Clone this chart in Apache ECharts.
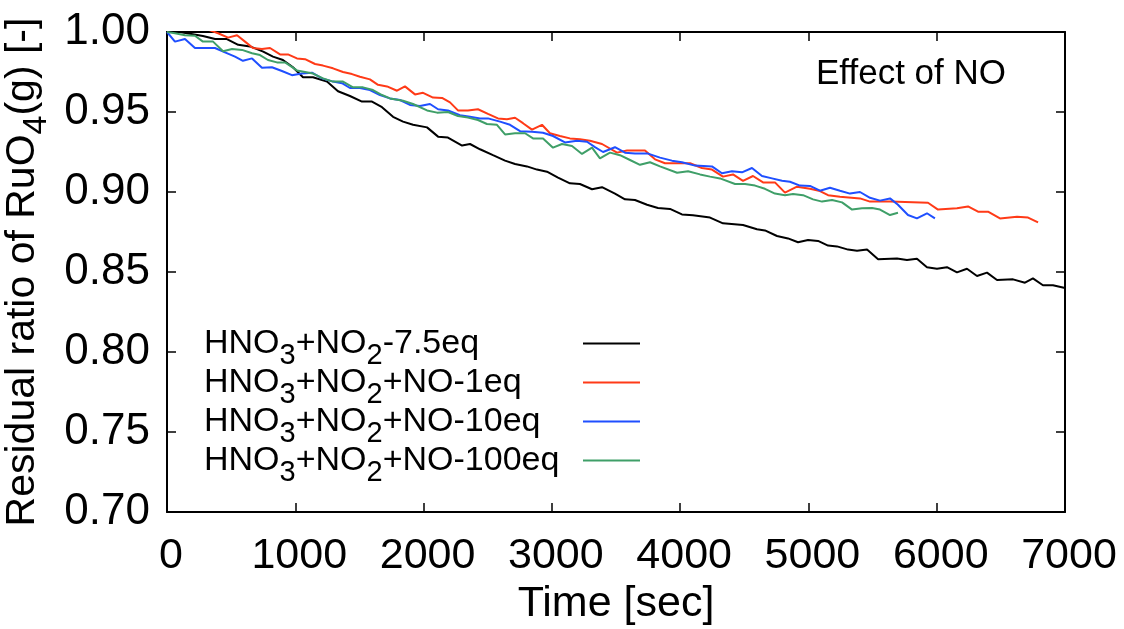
<!DOCTYPE html>
<html><head><meta charset="utf-8">
<script src="https://cdn.jsdelivr.net/npm/echarts@6/dist/echarts.min.js"></script>
<style>html,body{margin:0;padding:0;background:#fff}#c{width:1124px;height:629px}</style>
</head><body><div id="c"></div>
<script>
const seriesNames = ['HNO3+NO2-7.5eq', 'HNO3+NO2+NO-1eq', 'HNO3+NO2+NO-10eq', 'HNO3+NO2+NO-100eq'];
const seriesLabels = ['HNO{s|3}+NO{s|2}-7.5eq', 'HNO{s|3}+NO{s|2}+NO-1eq', 'HNO{s|3}+NO{s|2}+NO-10eq', 'HNO{s|3}+NO{s|2}+NO-100eq'];
const seriesColors = ['#000000', '#ff3a17', '#1f4fff', '#3f9f68'];
const xTickValues = [0, 1000, 2000, 3000, 4000, 5000, 6000, 7000];
const yTickValues = [0.70, 0.75, 0.80, 0.85, 0.90, 0.95, 1.00];

const time75 = [0,100,280,375,467,555,647,750,826,904,982,1060,1138,1247,1333,1426,1520,1598,1676,1762,1840,1918,2027,2113,2190,2300,2362,2440,2541,2635,2713,2806,2884,2962,3048,3141,3219,3313,3391,3492,3570,3648,3742,3827,3921,4014,4100,4233,4334,4490,4599,4661,4755,4841,4919,4997,5075,5153,5223,5309,5379,5457,5543,5690,5768,5846,5924,6002,6080,6158,6236,6314,6392,6470,6595,6688,6750,6828,6906,7000];
const ratio75 = [1.000,1.000,0.9975,0.9956,0.9956,0.992,0.991,0.9877,0.9846,0.9825,0.978,0.9717,0.9717,0.969,0.963,0.960,0.9565,0.9565,0.953,0.947,0.944,0.942,0.9404,0.9346,0.934,0.929,0.930,0.9267,0.923,0.9196,0.9175,0.916,0.914,0.9127,0.909,0.9054,0.905,0.9017,0.903,0.899,0.8954,0.895,0.892,0.890,0.8894,0.886,0.8854,0.884,0.8804,0.8794,0.8767,0.876,0.8725,0.871,0.8686,0.870,0.8694,0.8665,0.866,0.864,0.8633,0.864,0.858,0.8585,0.8575,0.8583,0.853,0.852,0.853,0.8498,0.852,0.8475,0.8496,0.845,0.8454,0.8433,0.846,0.8417,0.8417,0.840];

const time1 = [0,120,240,335,398,476,546,608,670,740,803,881,943,1013,1076,1154,1216,1294,1372,1442,1504,1582,1645,1715,1793,1855,1933,1996,2074,2144,2206,2268,2346,2424,2502,2580,2650,2713,2775,2845,2923,2985,3063,3141,3219,3297,3391,3508,3586,3726,3804,3882,4077,4170,4248,4334,4412,4490,4568,4646,4739,4817,4911,5012,5090,5153,5246,5402,5480,5636,5932,6010,6158,6244,6322,6400,6493,6626,6712,6790];
const ratio1 = [1.001,1.003,1.003,1.001,0.9992,0.9965,0.998,0.994,0.990,0.9894,0.990,0.986,0.986,0.9835,0.983,0.980,0.979,0.9773,0.975,0.9737,0.972,0.9704,0.967,0.966,0.9633,0.966,0.961,0.962,0.959,0.9588,0.956,0.951,0.951,0.9517,0.9488,0.946,0.9455,0.9464,0.943,0.939,0.942,0.9367,0.935,0.9335,0.933,0.932,0.930,0.9246,0.926,0.926,0.9204,0.918,0.918,0.915,0.914,0.9096,0.911,0.907,0.910,0.906,0.906,0.8996,0.9033,0.902,0.9006,0.898,0.897,0.896,0.894,0.894,0.8933,0.889,0.8898,0.891,0.8877,0.8877,0.8835,0.8846,0.884,0.881];

const time10 = [0,62,140,218,296,374,452,530,592,663,740,818,896,974,1052,1130,1208,1294,1364,1426,1504,1582,1660,1738,1816,1894,1972,2050,2113,2190,2284,2362,2440,2502,2596,2674,2752,2845,2931,3009,3102,3196,3274,3336,3399,3492,3570,3648,3750,3843,3936,4014,4116,4248,4326,4404,4482,4560,4638,4716,4794,4856,4934,5012,5090,5168,5246,5324,5402,5480,5558,5636,5698,5776,5846,5924,5986];
const ratio10 = [1.000,0.994,0.9956,0.990,0.990,0.990,0.9873,0.9846,0.982,0.9835,0.9777,0.978,0.9756,0.973,0.974,0.9746,0.971,0.969,0.968,0.965,0.965,0.9637,0.9606,0.9585,0.9575,0.9544,0.9537,0.955,0.9517,0.951,0.948,0.947,0.946,0.946,0.944,0.942,0.938,0.9377,0.937,0.935,0.931,0.932,0.9314,0.928,0.925,0.928,0.9246,0.924,0.924,0.9215,0.9196,0.9186,0.9165,0.916,0.9117,0.913,0.9123,0.915,0.910,0.9085,0.907,0.9064,0.904,0.9038,0.9008,0.9027,0.9008,0.899,0.900,0.8964,0.8946,0.896,0.892,0.8856,0.8835,0.8867,0.8835];

const time100 = [0,62,140,218,280,359,437,507,585,663,725,787,857,920,1013,1076,1138,1216,1294,1372,1450,1528,1606,1676,1738,1840,1918,2027,2105,2190,2268,2346,2424,2494,2572,2635,2713,2791,2853,2931,3009,3079,3157,3235,3313,3375,3453,3531,3609,3687,3765,3843,3976,4062,4155,4233,4311,4428,4506,4584,4661,4739,4817,4880,4958,5036,5106,5184,5262,5340,5418,5496,5558,5636,5698];
const ratio100 = [1.000,0.9992,0.998,0.9977,0.994,0.994,0.988,0.9894,0.9888,0.9867,0.9856,0.9825,0.981,0.981,0.976,0.975,0.974,0.971,0.969,0.969,0.9654,0.9654,0.9637,0.9606,0.9585,0.957,0.955,0.951,0.9496,0.950,0.9475,0.9465,0.945,0.9425,0.942,0.936,0.9367,0.9367,0.9335,0.9335,0.9277,0.930,0.9287,0.9238,0.9277,0.921,0.9246,0.923,0.920,0.917,0.9186,0.916,0.912,0.913,0.911,0.9096,0.9085,0.905,0.905,0.904,0.902,0.899,0.898,0.8988,0.898,0.8954,0.894,0.895,0.8935,0.889,0.8898,0.890,0.889,0.8856,0.887];

const allTimes = [time75, time1, time10, time100];
const allRatios = [ratio75, ratio1, ratio10, ratio100];

const FONT = 'Liberation Sans, Arial, sans-serif';
const chart = echarts.init(document.getElementById('c'), null, {renderer: 'canvas'});

const xMin = xTickValues[0], xMax = xTickValues[xTickValues.length - 1];
const xStep = xTickValues[1] - xTickValues[0];
const yMin = yTickValues[0], yMax = yTickValues[yTickValues.length - 1];
const yStep = 0.05;

const axisLineStyle = {show: true, onZero: false, lineStyle: {color: '#000', width: 2}};
const tickStyle = {show: true, inside: true, length: 9, lineStyle: {color: '#000', width: 1.5}};

const legendRich = {s: {fontSize: 29, lineHeight: 16, padding: [23, 0, 0, 0], fontFamily: FONT, color: '#000'}};

const option = {
  animation: false,
  backgroundColor: '#fff',
  textStyle: {fontFamily: FONT},
  title: {
    text: 'Effect of NO', left: 811, top: 52,
    textStyle: {fontSize: 35, fontWeight: 'normal', color: '#000', fontFamily: FONT}
  },
  grid: {left: 167, right: 59, top: 32, bottom: 117, containLabel: false, outerBoundsMode: 'none'},
  legend: [
    {
      orient: 'vertical', left: 194, top: 313, itemGap: -13, itemWidth: 0, itemHeight: 2,
      icon: 'rect', selectedMode: false,
      data: seriesNames,
      formatter: function (name) { return seriesLabels[seriesNames.indexOf(name)]; },
      textStyle: {fontSize: 34, lineHeight: 39, color: '#000', fontFamily: FONT, rich: legendRich}
    },
    {
      orient: 'vertical', left: 578, top: 319, itemGap: 0, itemWidth: 57, itemHeight: 2,
      icon: 'rect', selectedMode: false,
      data: seriesNames,
      formatter: function () { return ' '; },
      textStyle: {fontSize: 34, lineHeight: 39, color: '#000', fontFamily: FONT}
    }
  ],
  xAxis: [
    {
      type: 'value', min: xMin, max: xMax, interval: xStep,
      name: 'Time [sec]', nameLocation: 'middle', nameGap: 70,
      nameTextStyle: {fontSize: 43, lineHeight: 43, color: '#000', fontFamily: FONT},
      axisLine: axisLineStyle, axisTick: tickStyle,
      axisLabel: {fontSize: 43, lineHeight: 43, margin: 23, padding: [0, 0, 0, 8], color: '#000', fontFamily: FONT,
        formatter: function (v) { return String(v); }},
      splitLine: {show: false}
    },
    {
      type: 'value', position: 'top', min: xMin, max: xMax, interval: xStep,
      axisLine: axisLineStyle, axisTick: tickStyle, axisLabel: {show: false}, splitLine: {show: false}
    }
  ],
  yAxis: [
    {
      type: 'value', min: yMin, max: yMax, interval: yStep,
      name: 'Residual ratio of RuO{s|4}(g) [-]', nameLocation: 'middle', nameGap: 108, nameRotate: 90,
      nameTextStyle: {fontSize: 41, lineHeight: 46, color: '#000', fontFamily: FONT,
        rich: {s: {fontSize: 34, lineHeight: 18, padding: [28, 0, 0, 0], color: '#000', fontFamily: FONT}}},
      axisLine: axisLineStyle, axisTick: tickStyle,
      axisLabel: {fontSize: 44, margin: 17, color: '#000', fontFamily: FONT,
        formatter: function (v) { return v.toFixed(2); }},
      splitLine: {show: false}
    },
    {
      type: 'value', position: 'right', min: yMin, max: yMax, interval: yStep,
      axisLine: axisLineStyle, axisTick: tickStyle, axisLabel: {show: false}, splitLine: {show: false}
    }
  ],
  series: seriesNames.map(function (name, i) {
    return {
      name: name, type: 'line', xAxisIndex: 0, yAxisIndex: 0,
      showSymbol: false, symbol: 'none', clip: true,
      lineStyle: {color: seriesColors[i], width: 2},
      itemStyle: {color: seriesColors[i]},
      data: allTimes[i].map(function (t, k) { return [t, allRatios[i][k]]; })
    };
  })
};
chart.setOption(option);
</script>
</body></html>
